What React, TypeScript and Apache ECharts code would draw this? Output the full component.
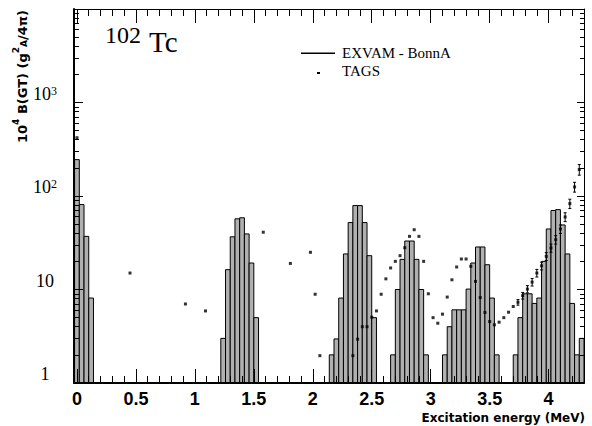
import React, { useEffect, useRef } from "react";
import * as echarts from "echarts";

// ---------- data ----------
const BIN_WIDTH = 0.04;
const binStarts = [
  -0.02, 0.02, 0.06, 0.1,
  1.22, 1.26, 1.3, 1.34, 1.38, 1.42, 1.46, 1.5,
  2.14, 2.18, 2.22, 2.26, 2.3, 2.34, 2.38, 2.42, 2.46, 2.5,
  2.66, 2.7, 2.74, 2.78, 2.82, 2.86, 2.9, 2.94,
  3.1, 3.14, 3.18, 3.22, 3.26, 3.3, 3.34, 3.38, 3.42, 3.46, 3.5, 3.54,
  3.7, 3.74, 3.78, 3.82, 3.86, 3.9, 3.94, 3.98, 4.02, 4.06, 4.1, 4.14, 4.18, 4.22, 4.26,
];
const binValues = [
  245, 81, 37, 8.1,
  3.0, 16.3, 36.6, 57, 58.5, 39.3, 19.2, 5.0,
  2.0, 2.96, 8.1, 24, 52, 79, 79, 52, 23, 5.0,
  2.0, 10, 21, 33, 33, 21, 10, 2.0,
  2.0, 4.0, 6.06, 6.06, 6.06, 10.1, 19.2, 28.5, 28.5, 18.4, 8.1, 2.0,
  2.0, 5.0, 9.0, 9.0, 7.1, 8.1, 20, 44.4, 70, 71.5, 49, 24, 7.1, 2.0, 3.0,
];

const tagsEnergy = [
  0.0, 0.45, 0.92, 1.09, 1.58, 1.81, 1.98, 2.02, 2.06,
  2.34, 2.38, 2.42, 2.46, 2.5, 2.54, 2.58, 2.62, 2.66, 2.7, 2.74, 2.78, 2.82, 2.86, 2.9, 2.94,
  2.98, 3.02, 3.06, 3.1, 3.14, 3.18, 3.22, 3.26, 3.3, 3.34, 3.38, 3.42, 3.46, 3.5, 3.54, 3.58,
  3.62, 3.66, 3.7, 3.74, 3.78, 3.82, 3.86, 3.9, 3.94, 3.98, 4.02, 4.06, 4.1, 4.14, 4.18, 4.22, 4.26,
];
const tagsValues = [
  420, 15.0, 7.0, 5.9, 41, 19, 25, 8.9, 1.96,
  1.96, 2.94, 4.0, 4.0, 5.06, 5.9, 8.9, 13.0, 17.0, 20, 23, 28, 37, 43.6, 37, 20,
  9.0, 5.0, 4.36, 5.45, 8.3, 12.7, 17.4, 21.2, 21.2, 17.7, 12.2, 8.2, 5.67, 4.54, 4.19, 4.47,
  5.0, 5.72, 6.58, 7.3, 8.6, 10.1, 12.0, 15.0, 17.9, 22.6, 27.8, 34.1, 44.4, 59.7, 82.9, 125, 192,
];
const tagsErrors = [
  0, 0, 0, 0, 0, 0, 0, 0, 0,
  0, 0, 0, 0, 0, 0, 0, 0, 0, 0, 0, 0, 0, 0, 0, 0,
  0, 0, 0, 0, 0, 0, 0, 0, 0, 0, 0, 0, 0, 0, 0, 0,
  0, 0, 0, 0.5, 0.7, 0.9, 1.1, 1.4, 1.7, 2.2, 2.8, 3.5, 4.6, 6.5, 9.5, 15, 25,
];

const xTickLabels = [0, 0.5, 1, 1.5, 2, 2.5, 3, 3.5, 4];
const yLabelTicks = [1, 10, 100, 1000];
const yTickLabels: Record<number, string> = {
  1: "{b|1}",
  10: "{b|10}",
  100: "{b|10}{sup|2}",
  1000: "{b|10}{sup|3}",
};

// ---------- style / layout ----------
const XMIN = -0.025;
const XMAX = 4.3;
const YMIN = 1;
const YMAX = 10000;
const PLOT_LEFT = 74;
const PLOT_TOP = 9;
const PLOT_W = 510;
const PLOT_H = 374;
// a second rectangle whose left edge is x = 0 on the same scale, so that ticks can start at 0
const ZERO_LEFT = PLOT_LEFT + (PLOT_W * (0 - XMIN)) / (XMAX - XMIN);
const ZERO_W = PLOT_LEFT + PLOT_W - ZERO_LEFT;

const serif = "'Liberation Serif', 'Times New Roman', serif";
const sans = "'Liberation Sans', Arial, sans-serif";
const dejavu = "'DejaVu Sans', Verdana, sans-serif";
const black = { color: "#000", width: 1 };

const binData = binStarts.map((s, i) => [s, binValues[i]]);
const tagsData = tagsEnergy.map((e, i) => [e, tagsValues[i]]);
const errData = tagsEnergy
  .map((e, i) => [e, tagsValues[i], tagsErrors[i]])
  .filter((d) => d[2] > 0);

const hiddenY = (gridIndex: number) => ({
  gridIndex,
  type: "log",
  logBase: 10,
  min: YMIN,
  max: YMAX,
  show: true,
  axisLine: { show: false },
  axisTick: { show: false },
  axisLabel: { show: false },
  splitLine: { show: false },
});

const tickX = (gridIndex: number, position: string, interval: number, len: number) => ({
  gridIndex,
  type: "value",
  position,
  min: 0,
  max: XMAX,
  interval,
  z: 6,
  axisLine: { show: false, onZero: false },
  axisTick: { show: true, inside: true, length: len, lineStyle: black },
  axisLabel: { show: false },
  splitLine: { show: false },
});

const option: any = {
  animation: false,
  backgroundColor: "#fff",
  grid: [
    { left: PLOT_LEFT, top: PLOT_TOP, width: PLOT_W, height: PLOT_H, containLabel: false },
    { left: ZERO_LEFT, top: PLOT_TOP, width: ZERO_W, height: PLOT_H, containLabel: false },
    { left: ZERO_LEFT, top: PLOT_TOP, width: ZERO_W, height: PLOT_H, containLabel: false },
  ],
  xAxis: [
    {
      gridIndex: 0,
      type: "value",
      position: "bottom",
      min: XMIN,
      max: XMAX,
      z: 6,
      axisLine: { show: true, onZero: false, lineStyle: { color: "#000", width: 2 } },
      axisTick: { show: false },
      axisLabel: {
        show: true,
        customValues: xTickLabels,
        margin: 7,
        color: "#000",
        fontFamily: sans,
        fontWeight: "bold",
        fontSize: 18,
        lineHeight: 18,
        formatter: (v: number) => String(v),
      },
      splitLine: { show: false },
    },
    {
      gridIndex: 0,
      type: "value",
      position: "top",
      min: XMIN,
      max: XMAX,
      z: 6,
      axisLine: { show: true, onZero: false, lineStyle: black },
      axisTick: { show: false },
      axisLabel: { show: false },
      splitLine: { show: false },
    },
    tickX(1, "bottom", 0.1, 7),
    tickX(1, "top", 0.1, 7),
    tickX(2, "bottom", 0.5, 14),
    tickX(2, "top", 0.5, 14),
  ],
  yAxis: [
    {
      gridIndex: 0,
      type: "log",
      logBase: 10,
      position: "left",
      min: YMIN,
      max: YMAX,
      z: 6,
      axisLine: { show: true, onZero: false, lineStyle: { color: "#000", width: 2 } },
      axisTick: { show: true, inside: true, length: 9, lineStyle: black },
      minorTick: { show: true, splitNumber: 9, length: 5, lineStyle: black },
      axisLabel: {
        show: true,
        customValues: yLabelTicks,
        margin: 29,
        align: "center",
        verticalAlign: "bottom",
        color: "#000",
        formatter: (v: number) => yTickLabels[Math.round(v)] || String(v),
        rich: {
          b: { fontFamily: serif, fontSize: 18, lineHeight: 12, verticalAlign: "bottom", color: "#000" },
          sup: { fontFamily: serif, fontSize: 12, lineHeight: 12, padding: [0, 0, 6, 0], verticalAlign: "bottom", color: "#000" },
        },
      },
      splitLine: { show: false },
    },
    {
      gridIndex: 0,
      type: "log",
      logBase: 10,
      position: "right",
      min: YMIN,
      max: YMAX,
      z: 6,
      axisLine: { show: true, onZero: false, lineStyle: black },
      axisTick: { show: true, inside: true, length: 7, lineStyle: black },
      minorTick: { show: true, splitNumber: 9, length: 4, lineStyle: black },
      axisLabel: { show: false },
      splitLine: { show: false },
    },
    hiddenY(1),
    hiddenY(2),
  ],
  series: [
    {
      type: "custom",
      name: "EXVAM - BonnA",
      xAxisIndex: 0,
      yAxisIndex: 0,
      z: 2,
      silent: true,
      encode: { x: 0, y: 1 },
      data: binData,
      renderItem: (params: any, api: any) => {
        const x0 = api.value(0);
        const v = api.value(1);
        const pTop = api.coord([x0, v]);
        const pBot = api.coord([x0 + BIN_WIDTH, YMIN]);
        return {
          type: "rect",
          shape: { x: pTop[0], y: pTop[1], width: pBot[0] - pTop[0], height: pBot[1] - pTop[1] },
          style: { fill: "#b0b0b0", stroke: "#000", lineWidth: 1 },
        };
      },
    },
    {
      type: "custom",
      name: "TAGS errors",
      xAxisIndex: 0,
      yAxisIndex: 0,
      z: 3,
      silent: true,
      encode: { x: 0, y: 1 },
      data: errData,
      renderItem: (params: any, api: any) => {
        const e = api.value(0);
        const v = api.value(1);
        const err = api.value(2);
        const lo = api.coord([e, v - err]);
        const hi = api.coord([e, v + err]);
        return {
          type: "group",
          children: [
            { type: "line", shape: { x1: lo[0], y1: lo[1], x2: hi[0], y2: hi[1] }, style: { stroke: "#000", lineWidth: 1 } },
            { type: "line", shape: { x1: lo[0] - 1.5, y1: lo[1], x2: lo[0] + 1.5, y2: lo[1] }, style: { stroke: "#000", lineWidth: 1 } },
            { type: "line", shape: { x1: hi[0] - 1.5, y1: hi[1], x2: hi[0] + 1.5, y2: hi[1] }, style: { stroke: "#000", lineWidth: 1 } },
          ],
        };
      },
    },
    {
      type: "scatter",
      name: "TAGS",
      xAxisIndex: 0,
      yAxisIndex: 0,
      z: 4,
      silent: true,
      symbol: "rect",
      symbolSize: [3, 3],
      itemStyle: { color: "#000" },
      data: tagsData,
    },
  ],
  graphic: [
    { type: "text", x: 105, y: 35, style: { text: "102", fontFamily: serif, fontSize: 24, fill: "#000", align: "left", verticalAlign: "middle" } },
    { type: "text", x: 149, y: 42, style: { text: "Tc", fontFamily: serif, fontSize: 29, fill: "#000", align: "left", verticalAlign: "middle" } },
    { type: "rect", shape: { x: 301, y: 52.5, width: 34, height: 1.5 }, style: { fill: "#000" } },
    { type: "text", x: 342, y: 53, style: { text: "EXVAM - BonnA", fontFamily: serif, fontSize: 15, fill: "#000", align: "left", verticalAlign: "middle" } },
    { type: "rect", shape: { x: 317, y: 72, width: 3, height: 2 }, style: { fill: "#000" } },
    { type: "text", x: 342, y: 71, style: { text: "TAGS", fontFamily: serif, fontSize: 15, fill: "#000", align: "left", verticalAlign: "middle" } },
    {
      type: "text",
      x: 585,
      y: 417.5,
      style: { text: "Excitation energy (MeV)", fontFamily: dejavu, fontWeight: "bold", fontSize: 12, fill: "#000", align: "right", verticalAlign: "middle" },
    },
    {
      type: "text",
      x: 22,
      y: 10,
      rotation: Math.PI / 2,
      style: {
        text: "{b|10}{sup|4}{b| B(GT) (g}{sup|2}{sub|A}{b|/4π)}",
        align: "right",
        verticalAlign: "middle",
        fill: "#000",
        rich: {
          b: { fontFamily: dejavu, fontWeight: "bold", fontSize: 13, lineHeight: 13, verticalAlign: "bottom", fill: "#000" },
          sup: { fontFamily: dejavu, fontWeight: "bold", fontSize: 9, lineHeight: 9, padding: [0, 0, 8, 0], verticalAlign: "bottom", fill: "#000" },
          sub: { fontFamily: dejavu, fontWeight: "bold", fontSize: 9, lineHeight: 9, verticalAlign: "bottom", fill: "#000" },
        },
      },
    },
  ],
};

export default function App() {
  const ref = useRef<HTMLDivElement>(null);
  useEffect(() => {
    document.body.style.margin = "0";
    const chart = echarts.init(ref.current!, null, { renderer: "svg" });
    chart.setOption(option);
    return () => chart.dispose();
  }, []);
  return <div ref={ref} style={{ width: 592, height: 426, background: "#fff" }} />;
}
